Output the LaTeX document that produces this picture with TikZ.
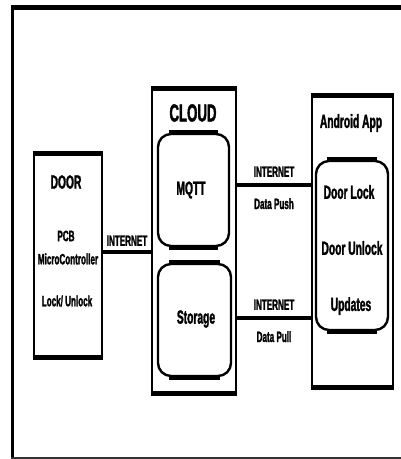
\documentclass[tikz,border=0pt]{standalone}
\usepackage{fontspec}
\setsansfont{Liberation Sans}[FakeStretch=0.54, BoldFeatures={FakeBold=1.6}]
\usetikzlibrary{positioning}

\begin{document}
\begin{tikzpicture}[x=1pt, y=-1pt, font=\sffamily\bfseries,
    blocco/.style={draw, line width=2.4pt, inner sep=0pt},
    modulo/.style={draw, line width=2.4pt, rounded corners=13pt, inner sep=0pt},
    bordo/.style={line width=5pt},
    link/.style={line width=3.6pt},
    grande/.style={font=\sffamily\bfseries\fontsize{24.5}{24.5}\selectfont},
    medio/.style={font=\sffamily\bfseries\fontsize{19}{19}\selectfont},
    piccolo/.style={font=\sffamily\bfseries\fontsize{15}{15}\selectfont}]
    \useasboundingbox (0,0) rectangle (401,459);

    % Cornice
    \draw[line width=3pt] (12.5,458) -- (12.5,7.5);
    \draw[line width=4.5pt] (11,7.5) -- (401,7.5);
    \draw[line width=2pt, black!80] (11,457.5) -- (401,457.5);

    % Blocchi
    \node[blocco, minimum width=68pt, minimum height=201pt] (door) at (68,255.5) {};
    \node[blocco, minimum width=84pt, minimum height=302pt] (cloud) at (194,241) {};
    \node[modulo, minimum width=71pt, minimum height=112pt] (mqtt) at (193.5,190) {};
    \node[modulo, minimum width=73pt, minimum height=112pt] (storage) at (194.5,320) {};
    \node[blocco, minimum width=81pt, minimum height=289pt] (app) at (352.5,241.5) {};
    \node[modulo, minimum width=72pt, minimum height=169pt] (funzioni) at (352,245.5) {};

    % Bordi spessi
    \foreach \b in {door, cloud, app} {
        \draw[bordo] (\b.north west) -- (\b.north east);
        \draw[bordo] (\b.south west) -- (\b.south east);
    }
    \foreach \b in {mqtt, storage, funzioni} {
        \draw[bordo] ([xshift=12pt]\b.north west) -- ([xshift=-12pt]\b.north east);
        \draw[bordo] ([xshift=12pt]\b.south west) -- ([xshift=-12pt]\b.south east);
    }

    % Testi
    \node[grande] (cloudT) at (193,113) {CLOUD};
    \node[medio] (mqttT) at (191,190) {MQTT};
    \node[medio] (storageT) at (196,319) {Storage};
    \node[medio] (doorT) at (66,182) {DOOR};
    \node[piccolo] (pcb) at (66,236) {PCB};
    \node[piccolo] (micro) at (68,259) {MicroController};
    \node[piccolo] (lock) at (67,301) {Lock/ Unlock};
    \node[medio] (appT) at (351,123) {Android App};
    \node[medio] (doorLock) at (349,192) {Door Lock};
    \node[medio] (doorUnlock) at (352,248) {Door Unlock};
    \node[medio] (updates) at (351,306) {Updates};

    % Collegamenti
    \draw[link] ([yshift=3.5pt]door.east) -- ([yshift=3.5pt]door.east -| cloud.west)
        node[piccolo, above, midway, yshift=1pt] (netA) {INTERNET};
    \draw[link] ([yshift=5pt]cloud.east |- mqtt.center) -- ([yshift=5pt]app.west |- mqtt.center)
        node[piccolo, above, midway, yshift=3pt] (netB) {INTERNET}
        node[piccolo, below, midway, yshift=-8pt] (push) {Data Push};
    \draw[link] ([yshift=2pt]cloud.east |- storage.center) -- ([yshift=2pt]app.west |- storage.center)
        node[piccolo, above, midway, yshift=3pt] (netC) {INTERNET}
        node[piccolo, below, midway, yshift=-8pt] (pull) {Data Pull};
\end{tikzpicture}
\end{document}
